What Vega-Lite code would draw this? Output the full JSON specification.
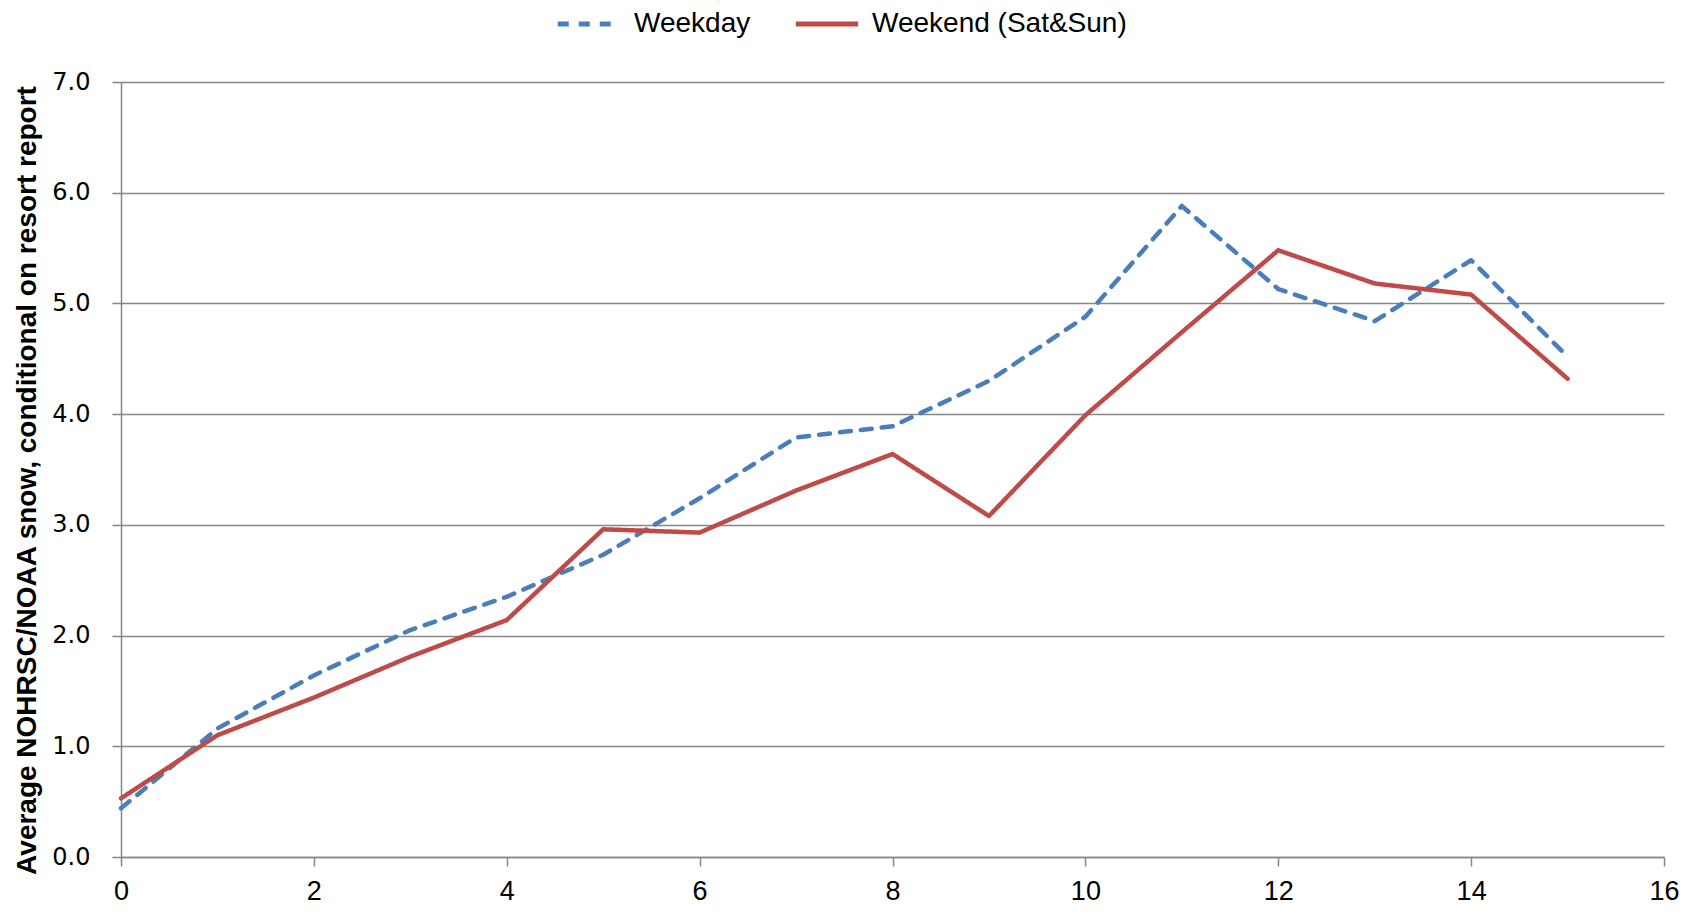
{
  "$schema": "https://vega.github.io/schema/vega-lite/v6.json",
  "autosize": "none",
  "width": 1543,
  "height": 775,
  "padding": {"left": 121, "top": 82, "right": 33, "bottom": 61},
  "background": "white",
  "config": {"view": {"stroke": null}},
  "data": {
    "values": [
      {"x": 0, "series": "Weekday", "v": 0.44},
      {"x": 1, "series": "Weekday", "v": 1.16},
      {"x": 2, "series": "Weekday", "v": 1.64},
      {"x": 3, "series": "Weekday", "v": 2.05},
      {"x": 4, "series": "Weekday", "v": 2.35},
      {"x": 5, "series": "Weekday", "v": 2.73},
      {"x": 6, "series": "Weekday", "v": 3.24},
      {"x": 7, "series": "Weekday", "v": 3.79},
      {"x": 8, "series": "Weekday", "v": 3.89},
      {"x": 9, "series": "Weekday", "v": 4.30},
      {"x": 10, "series": "Weekday", "v": 4.88},
      {"x": 11, "series": "Weekday", "v": 5.88},
      {"x": 12, "series": "Weekday", "v": 5.13},
      {"x": 13, "series": "Weekday", "v": 4.84},
      {"x": 14, "series": "Weekday", "v": 5.39},
      {"x": 15, "series": "Weekday", "v": 4.52},
      {"x": 0, "series": "Weekend (Sat&Sun)", "v": 0.53},
      {"x": 1, "series": "Weekend (Sat&Sun)", "v": 1.10},
      {"x": 2, "series": "Weekend (Sat&Sun)", "v": 1.44},
      {"x": 3, "series": "Weekend (Sat&Sun)", "v": 1.81},
      {"x": 4, "series": "Weekend (Sat&Sun)", "v": 2.14},
      {"x": 5, "series": "Weekend (Sat&Sun)", "v": 2.96},
      {"x": 6, "series": "Weekend (Sat&Sun)", "v": 2.93},
      {"x": 7, "series": "Weekend (Sat&Sun)", "v": 3.31},
      {"x": 8, "series": "Weekend (Sat&Sun)", "v": 3.64},
      {"x": 9, "series": "Weekend (Sat&Sun)", "v": 3.08},
      {"x": 10, "series": "Weekend (Sat&Sun)", "v": 3.99},
      {"x": 11, "series": "Weekend (Sat&Sun)", "v": 4.74},
      {"x": 12, "series": "Weekend (Sat&Sun)", "v": 5.48},
      {"x": 13, "series": "Weekend (Sat&Sun)", "v": 5.18},
      {"x": 14, "series": "Weekend (Sat&Sun)", "v": 5.08},
      {"x": 15, "series": "Weekend (Sat&Sun)", "v": 4.32}
    ]
  },
  "mark": {"type": "line", "strokeWidth": 4.5, "strokeCap": "round", "strokeJoin": "round"},
  "encoding": {
    "x": {
      "field": "x", "type": "quantitative",
      "scale": {"domain": [0, 16], "nice": false, "zero": false},
      "axis": {
        "values": [0, 2, 4, 6, 8, 10, 12, 14, 16],
        "title": null, "grid": false,
        "domainColor": "#868686", "domainWidth": 1.5,
        "tickColor": "#868686", "tickWidth": 1.5, "tickSize": 9,
        "labelFont": "Liberation Sans", "labelFontSize": 27, "labelColor": "black",
        "labelPadding": 12, "labelFlush": false
      }
    },
    "y": {
      "field": "v", "type": "quantitative",
      "scale": {"domain": [0, 7], "nice": false},
      "axis": {
        "values": [0, 1, 2, 3, 4, 5, 6, 7],
        "format": ".1f",
        "title": "Average NOHRSC/NOAA snow, conditional on resort report",
        "titleFont": "Liberation Sans", "titleFontSize": 28, "titleFontWeight": "bold", "titleColor": "black",
        "titleAngle": -90, "titleX": -94, "titleY": 398, "titleAlign": "center", "titleBaseline": "middle",
        "grid": true, "gridColor": "#868686", "gridWidth": 1.5,
        "domainColor": "#868686", "domainWidth": 1.5,
        "tickColor": "#868686", "tickWidth": 1.5, "tickSize": 9,
        "labelFont": "DejaVu Sans", "labelFontSize": 24, "labelColor": "black",
        "labelPadding": 22
      }
    },
    "color": {
      "field": "series", "type": "nominal",
      "scale": {"domain": ["Weekday", "Weekend (Sat&Sun)"], "range": ["#4A7EBB", "#BE4B48"]},
      "legend": {
        "title": null, "orient": "none", "direction": "horizontal",
        "legendX": 434, "legendY": -92, "padding": 0,
        "symbolType": "stroke", "symbolSize": 3900, "symbolStrokeWidth": 5,
        "labelFont": "Liberation Sans", "labelFontSize": 28, "labelColor": "black", "labelLimit": 600,
        "labelOffset": 11, "columnPadding": 34
      }
    },
    "strokeDash": {
      "field": "series", "type": "nominal",
      "scale": {"domain": ["Weekday", "Weekend (Sat&Sun)"], "range": [[11, 10], [1, 0]]},
      "legend": {
        "title": null, "orient": "none", "direction": "horizontal",
        "legendX": 434, "legendY": -92, "padding": 0,
        "symbolType": "stroke", "symbolSize": 3900, "symbolStrokeWidth": 5,
        "labelFont": "Liberation Sans", "labelFontSize": 28, "labelColor": "black", "labelLimit": 600,
        "labelOffset": 11, "columnPadding": 34
      }
    }
  }
}
